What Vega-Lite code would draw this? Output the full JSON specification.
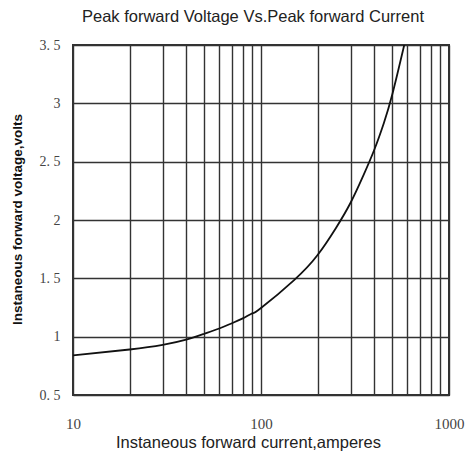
{
  "$schema": "https://vega.github.io/schema/vega-lite/v6.json",
  "width": 376,
  "height": 350,
  "autosize": {"type": "none"},
  "padding": {"left": 73, "top": 45, "right": 16, "bottom": 60},
  "background": "white",
  "title": {
    "text": "Peak forward Voltage Vs.Peak forward Current",
    "font": "Liberation Sans",
    "fontSize": 16.5,
    "fontWeight": "normal",
    "color": "#222",
    "anchor": "middle",
    "dx": -8,
    "offset": 13
  },
  "config": {
    "view": {"stroke": "#333", "strokeWidth": 2},
    "axis": {"domain": false, "ticks": false, "grid": true, "gridColor": "#333", "gridWidth": 1.4, "gridOpacity": 1}
  },
  "data": {
    "values": [
      {"current": 10, "voltage": 0.84},
      {"current": 20, "voltage": 0.89},
      {"current": 30, "voltage": 0.93},
      {"current": 40, "voltage": 0.975},
      {"current": 50, "voltage": 1.025},
      {"current": 60, "voltage": 1.07},
      {"current": 70, "voltage": 1.115},
      {"current": 80, "voltage": 1.157},
      {"current": 90, "voltage": 1.2},
      {"current": 100, "voltage": 1.245},
      {"current": 150, "voltage": 1.485},
      {"current": 200, "voltage": 1.7},
      {"current": 250, "voltage": 1.93},
      {"current": 300, "voltage": 2.15},
      {"current": 350, "voltage": 2.38},
      {"current": 400, "voltage": 2.6},
      {"current": 450, "voltage": 2.83},
      {"current": 500, "voltage": 3.08},
      {"current": 578, "voltage": 3.5}
    ]
  },
  "mark": {"type": "line", "color": "#111", "strokeWidth": 1.8, "interpolate": "natural", "clip": true},
  "encoding": {
    "x": {
      "field": "current",
      "type": "quantitative",
      "scale": {"type": "log", "domain": [10, 1000], "nice": false},
      "axis": {
        "values": [10, 20, 30, 40, 50, 60, 70, 80, 90, 100, 200, 300, 400, 500, 600, 700, 800, 900, 1000],
        "labelExpr": "datum.value == 10 || datum.value == 100 || datum.value == 1000 ? format(datum.value, 'd') : ''",
        "labelOverlap": false,
        "labelFlush": false,
        "labelFont": "Liberation Serif",
        "labelFontSize": 15,
        "labelColor": "#444",
        "labelPadding": 21,
        "title": "Instaneous forward current,amperes",
        "titleFont": "Liberation Sans",
        "titleFontSize": 16.5,
        "titleFontWeight": "normal",
        "titleColor": "#222",
        "titleX": 175,
        "titleY": 52,
        "titleBaseline": "alphabetic"
      }
    },
    "y": {
      "field": "voltage",
      "type": "quantitative",
      "scale": {"domain": [0.5, 3.5], "nice": false, "zero": false},
      "axis": {
        "values": [0.5, 1, 1.5, 2, 2.5, 3, 3.5],
        "labelExpr": "datum.value % 1 == 0 ? format(datum.value, 'd') : replace(format(datum.value, '.1f'), '.', '. ')",
        "labelFont": "Liberation Serif",
        "labelFontSize": 14,
        "labelColor": "#444",
        "labelPadding": 13,
        "title": "Instaneous forward voltage,volts",
        "titleFont": "Liberation Sans",
        "titleFontSize": 13.5,
        "titleFontWeight": "bold",
        "titleColor": "#111",
        "titleX": -56,
        "titleY": 174,
        "titleBaseline": "middle",
        "titleAngle": -90
      }
    }
  }
}
